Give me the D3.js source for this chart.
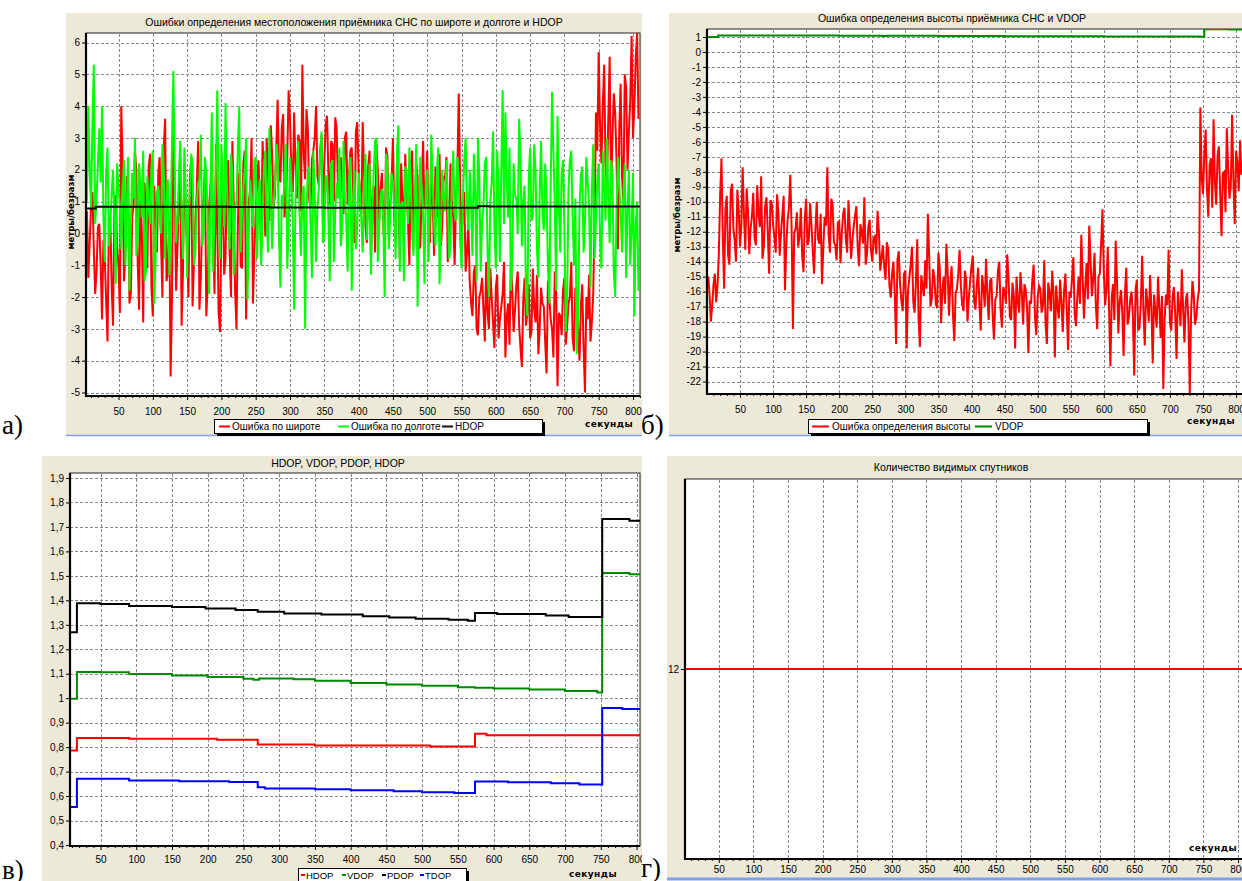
<!DOCTYPE html>
<html><head><meta charset="utf-8">
<script src="https://cdn.jsdelivr.net/npm/d3@7"></script>
<style>
body{margin:0;background:#fff}
svg{display:block}
text{font-family:"Liberation Sans",Arial,sans-serif;fill:#000}
</style>
</head><body>
<svg id="c" width="1242" height="881"></svg>
<script>
// ---------------- DATA ----------------
const xTicks = [50,100,150,200,250,300,350,400,450,500,550,600,650,700,750,800];
const yTicksA = [-5,-4,-3,-2,-1,0,1,2,3,4,5,6];
const yTicksB = [1,0,-1,-2,-3,-4,-5,-6,-7,-8,-9,-10,-11,-12,-13,-14,-15,-16,-17,-18,-19,-20,-21,-22];
const yTicksC = [0.4,0.5,0.6,0.7,0.8,0.9,1,1.1,1.2,1.3,1.4,1.5,1.6,1.7,1.8,1.9];
const yTicksD = [12];

// noisy series: "A" arrays sampled at t = 2,6,10,... s ; "B" arrays at t = 4,8,12,... s
const latErrA = [-0.2,-1.4,0.9,-0.5,-1.2,0.3,-2.7,-0.8,-3.4,0.5,-2.9,1.2,-1.0,
4.0,-1.5,1.8,-2.2,0.5,2.6,-0.9,1.2,-2.8,0.3,2.1,-1.7,1.5,-0.6,2.4,-2.0,3.6,-1.2,-4.5,
3.85,-1.8,1.0,-2.9,2.2,-0.5,1.7,-2.3,0.4,2.9,-1.4,1.1,-2.6,0.8,2.0,-1.9,0.2,-3.1,1.6,-0.8,2.3,-2.0,0.9,-3.0,1.9,-1.1,2.6,-0.4,1.4,-2.2,0.7,
2.3,-0.6,1.8,3.0,0.4,2.5,1.2,4.2,1.6,3.75,0.9,4.5,2.0,3.8,1.1,2.9,5.3,1.7,3.3,0.8,2.6,4.0,1.5,3.1,2.2,3.7,0.9,2.8,3.65,1.4,2.4,0.6,3.2,1.8,2.7,-0.3,3.5,1.2,
3.5,0.2,2.1,-0.8,1.5,2.8,0.4,1.9,-0.5,2.4,0.9,3.0,-0.2,1.6,2.2,0.1,1.3,-1.0,2.6,0.7,1.8,-0.4,2.9,1.0,0.2,2.0,-0.7,1.4,2.5,0.3,1.7,-0.9,2.2,0.5,1.1,4.4,-0.2,1.3,-0.6,
-1.5,-2.6,-1.0,-3.2,-1.8,-2.4,-0.9,-3.0,-2.0,-3.6,-1.3,-2.7,-1.9,-3.9,-2.2,-0.8,-3.1,-1.6,-2.9,-4.2,-1.4,-2.5,-3.3,-1.1,-2.8,-3.8,-1.7,-2.3,-4.4,-2.0,-3.0,-1.2,-4.8,-2.6,-1.8,-3.5,-2.2,-0.9,-3.7,-2.4,-4.0,-1.6,-5.0,-2.7,-3.4,-1.9,
3.8,5.7,2.2,5.3,1.5,5.55,3.0,3.8,-0.5,4.7,1.0,4.6,3.2,6.2,4.0,6.3];
const latErrB = [0.7,-0.3,1.3,-1.9,0.2,-1.0,-0.2,-2.1,0.4,-1.6,0.8,-0.4,-2.5,
2.2,-0.7,1.4,-1.9,0.9,2.0,-2.4,0.1,1.6,-1.1,2.5,-2.6,0.6,1.9,-0.3,2.7,-1.5,0.4,-2.0,
1.2,-0.4,2.5,-1.2,0.6,-2.0,2.4,-0.9,1.3,-2.4,0.5,2.1,-1.6,1.5,-0.2,2.8,-2.5,0.7,-1.3,1.9,-0.6,2.9,-1.8,0.3,-1.0,2.2,-2.7,1.0,3.0,-0.7,1.6,
1.0,2.9,-0.1,2.0,3.4,0.8,2.7,1.9,3.3,0.5,2.4,3.6,1.3,2.2,3.1,0.7,2.5,3.9,1.1,2.3,3.0,1.8,2.6,0.4,3.4,1.9,2.9,1.0,3.3,2.1,1.5,3.0,0.9,2.6,1.4,3.2,2.0,0.6,
1.8,-0.3,2.6,1.1,-0.6,2.0,1.4,0.3,2.7,-0.1,1.5,0.6,2.3,-0.8,1.0,2.5,0.4,1.9,0.0,2.2,-0.5,1.4,0.8,2.6,-0.3,1.2,2.1,0.5,-0.4,1.8,2.4,0.2,1.0,-1.0,2.0,1.6,0.7,-1.2,0.3,
-2.2,-1.2,-3.0,-2.0,-1.4,-3.4,-2.5,-1.1,-2.8,-1.7,-3.3,-2.3,-0.9,-2.6,-3.5,-1.8,-2.4,-1.2,-3.6,-2.1,-2.9,-1.6,-3.1,-2.4,-1.3,-3.0,-2.2,-3.4,-1.5,-2.7,-3.9,-1.9,-2.5,-3.2,-1.4,-2.9,-2.0,-3.3,-1.7,-3.0,-2.3,-3.6,-2.0,-1.3,-2.8,0.4,
2.6,3.4,4.1,2.0,3.6,1.2,4.4,2.3,3.3,1.8,5.0,2.0,4.2,3.0,5.5,3.6];

const lonErrA = [2.5,4.0,0.8,5.3,1.1,3.3,4.0,-0.9,2.7,0.2,2.0,-1.6,1.4,
-0.5,2.3,0.6,-1.8,1.9,3.0,-0.2,1.5,2.6,-1.2,0.9,2.1,-2.2,1.3,0.4,2.8,-0.8,1.7,0.2,
5.1,-0.3,1.8,0.5,2.7,-1.4,1.2,2.2,-0.6,1.6,3.1,0.0,1.9,-1.9,3.8,0.7,4.5,-0.8,1.4,4.1,0.3,2.5,-1.3,1.0,4.0,0.6,2.0,-2.1,1.7,0.2,2.4,
0.9,-1.0,2.1,0.4,3.3,-0.5,1.5,2.4,-1.7,0.8,2.8,0.1,1.6,-2.4,2.2,0.6,1.2,-3.0,1.9,0.3,2.6,-0.9,1.4,3.2,0.0,1.8,-1.5,2.3,0.7,1.1,-0.4,2.9,0.5,1.7,-1.8,2.0,0.2,1.3,
-0.6,2.5,0.8,-1.3,1.9,3.0,0.2,1.4,-2.0,2.2,0.5,1.6,-0.8,3.4,0.9,-1.5,1.8,2.7,0.0,1.2,-2.3,2.4,0.6,1.5,-0.9,3.1,0.3,1.9,-1.6,2.0,0.7,1.0,-0.3,2.6,0.4,1.7,-1.1,2.3,0.8,
2.0,-0.7,1.3,3.0,-1.2,0.8,2.4,-2.0,1.6,0.2,2.6,-0.9,4.5,3.8,0.5,-1.8,2.2,1.1,3.6,-0.4,1.5,-2.6,2.7,0.6,1.9,-1.4,2.9,0.1,1.2,-2.2,4.45,0.9,3.7,-0.6,2.3,-3.1,1.4,2.6,-1.0,-3.8,0.7,2.1,0.3,1.6,-1.7,2.8,
0.4,2.2,-1.1,1.5,3.0,-0.3,1.8,-2.0,2.4,0.6,1.2,-1.4,2.0,0.1,-2.6,1.0];
const lonErrB = [1.0,2.0,3.4,0.3,2.2,1.6,0.5,1.9,-0.4,1.2,0.6,2.2,0.9,
1.3,-1.0,2.4,0.2,1.1,-0.7,2.2,0.5,-1.5,1.8,0.3,2.6,-0.9,1.5,0.0,2.0,1.0,-1.3,2.9,
1.6,0.4,2.9,-0.8,1.3,0.7,2.5,-1.0,0.9,1.7,-0.4,2.4,0.6,1.1,-1.2,2.0,0.9,2.8,0.2,1.5,-0.5,1.9,0.8,2.7,-0.6,1.4,3.0,0.1,1.0,2.3,-0.8,
1.7,0.3,2.6,-0.6,1.3,0.9,2.8,-0.2,1.2,1.9,-1.1,2.4,0.4,1.0,2.9,-0.7,1.5,0.6,2.1,-1.4,1.3,0.8,2.5,-0.3,1.8,0.5,2.2,-0.9,1.6,2.7,0.1,1.1,-1.2,2.4,0.9,-0.5,1.9,0.4,
1.4,-0.2,2.2,0.7,2.9,-0.9,1.2,0.4,2.5,-0.5,1.9,0.8,2.6,-1.2,1.0,2.1,0.3,1.6,-0.7,2.8,0.5,1.3,-1.6,2.0,0.9,1.5,-0.4,2.7,0.2,1.1,2.3,-0.8,1.8,0.6,2.4,-0.2,1.0,3.0,0.1,
0.9,2.5,-1.5,1.8,0.4,2.2,-0.6,1.0,3.2,-1.1,1.4,2.0,0.3,1.6,2.7,-0.8,1.2,0.0,2.4,1.0,-1.9,1.7,0.4,2.8,-0.5,1.3,0.6,2.2,-1.0,1.5,2.6,-1.8,0.8,1.9,0.2,-2.0,2.3,0.5,1.1,-2.5,1.8,-0.6,2.4,0.9,1.3,-0.8,
1.7,-0.2,2.6,0.4,1.1,2.3,-1.2,0.8,1.5,-0.6,2.2,0.7,-1.0,1.9,0.3,-1.8];

const altErrA = [-15.0,-18.0,-15.5,-16.7,-13.5,-7.1,-15.8,-9.6,-14.2,-8.8,-12.6,-9.2,-13.0,
-7.7,-13.2,-10.5,-11.8,-9.4,-12.9,-10.8,-8.3,-13.0,-9.7,-14.8,-10.1,-12.3,-9.5,-13.6,-10.9,-15.9,-11.2,-8.2,
-18.5,-11.8,-13.0,-10.4,-14.7,-9.8,-12.6,-11.5,-14.8,-10.0,-12.8,-15.5,-11.0,-7.7,-13.4,-10.2,-12.9,-11.4,-14.1,-10.8,-12.5,-9.9,-13.8,-11.6,-10.3,-14.3,-12.0,-9.7,-13.5,-11.2,-14.0,
-12.3,-10.6,-14.6,-12.9,-15.2,-13.1,-16.4,-14.0,-19.5,-13.3,-16.6,-14.8,-19.8,-15.1,-13.0,-17.4,-12.5,-19.7,-15.6,-13.9,-10.8,-17.0,-14.5,-16.8,-13.4,-18.1,-15.0,-12.8,-17.6,-14.3,-19.3,-15.8,-13.2,-16.9,-14.6,-18.0,-15.3,-13.6,
-17.2,-14.4,-18.6,-15.7,-13.8,-17.9,-15.1,-19.2,-16.3,-14.0,-18.4,-16.0,-13.5,-17.7,-15.4,-19.8,-16.6,-14.7,-18.2,-15.9,-20.1,-16.8,-14.2,-18.9,-15.6,-17.4,-13.9,-19.5,-16.1,-14.6,-20.4,-17.0,-15.2,-18.7,-14.8,-19.9,-16.4,-13.7,-18.3,
-15.0,-12.2,-17.8,-14.1,-11.6,-16.3,-13.4,-18.5,-14.8,-10.5,-16.9,-13.0,-21.0,-15.5,-12.6,-18.8,-15.9,-20.3,-14.4,-17.7,-16.0,-21.6,-15.2,-18.4,-13.6,-19.6,-16.7,-14.9,-20.8,-17.3,-15.0,-19.1,-22.5,-16.2,-13.2,-18.6,-15.7,-20.5,-17.0,-14.5,-19.4,-16.1,-22.8,-15.3,-18.2,-16.5,
-3.7,-9.5,-5.2,-11.0,-7.1,-4.5,-10.2,-6.3,-12.3,-8.0,-5.1,-9.8,-4.2,-11.5,-7.4,-5.9];
const altErrB = [-16.2,-16.9,-14.8,-15.6,-9.6,-12.3,-10.4,-13.6,-9.3,-11.8,-14.0,-10.5,-11.6,
-10.9,-9.1,-13.5,-11.0,-12.4,-8.9,-11.7,-13.8,-10.3,-12.0,-9.9,-11.5,-13.4,-10.7,-12.1,-9.6,-12.9,-10.4,-11.7,
-12.1,-10.7,-12.3,-13.6,-11.1,-12.9,-10.1,-13.3,-11.9,-12.5,-10.8,-13.0,-11.6,-12.2,-9.8,-12.7,-13.9,-11.3,-12.0,-10.4,-13.4,-11.8,-12.6,-10.9,-13.1,-11.5,-12.8,-14.2,-11.7,-13.2,-12.4,
-13.5,-12.0,-13.8,-14.3,-12.7,-15.6,-14.8,-16.2,-13.9,-15.5,-17.3,-14.6,-16.0,-14.2,-16.7,-15.3,-17.8,-14.9,-16.3,-15.8,-13.6,-16.5,-15.1,-17.1,-14.4,-15.9,-16.8,-14.7,-15.4,-17.5,-16.1,-14.8,-15.7,-17.3,-15.2,-16.4,-14.3,-16.6,
-15.6,-16.9,-14.9,-17.0,-16.2,-15.3,-17.6,-16.5,-14.6,-17.2,-15.7,-16.8,-15.1,-17.9,-16.3,-15.0,-17.4,-16.0,-15.5,-17.1,-16.6,-15.2,-17.7,-16.4,-15.8,-16.9,-18.2,-15.4,-17.3,-16.1,-15.6,-17.8,-16.7,-15.9,-17.2,-16.0,-15.1,-17.5,-16.3,
-16.8,-14.9,-15.7,-16.5,-13.9,-15.2,-16.9,-15.0,-12.8,-14.6,-15.8,-17.2,-16.4,-17.9,-15.3,-16.7,-17.4,-16.1,-18.2,-16.5,-17.6,-15.9,-18.6,-16.8,-17.3,-15.8,-18.0,-17.1,-16.2,-18.4,-17.0,-16.3,-17.8,-16.9,-18.1,-16.4,-17.5,-16.0,-18.3,-17.2,-16.6,-18.0,-17.4,-16.2,-17.7,-15.9,
-8.4,-6.8,-9.1,-7.5,-10.4,-8.7,-6.9,-9.5,-8.1,-10.7,-7.7,-9.0,-8.6,-6.6,-9.3,-8.2];

// DOP step series: [time s, value]
const hdop = [[2,0.786],[17,0.837],[90,0.834],[213,0.83],[270,0.811],[350,0.807],[511,0.803],[574,0.855],[590,0.849],[810,0.849]];
const vdop = [[2,0.998],[17,1.107],[50,1.106],[90,1.099],[150,1.093],[200,1.087],[250,1.08],[264,1.075],[272,1.081],[320,1.077],[350,1.071],[400,1.062],[450,1.056],[500,1.051],[550,1.045],[574,1.043],[600,1.04],[650,1.036],[700,1.029],[745,1.023],[752,1.512],[790,1.507],[810,1.507]];
const pdop = [[2,1.27],[17,1.388],[50,1.385],[90,1.377],[150,1.373],[197,1.367],[239,1.36],[270,1.353],[307,1.346],[359,1.342],[417,1.335],[454,1.33],[491,1.325],[537,1.321],[564,1.317],[574,1.348],[605,1.344],[673,1.338],[705,1.332],[752,1.732],[790,1.725],[810,1.725]];
const tdop = [[2,0.555],[17,0.671],[90,0.664],[160,0.661],[230,0.657],[270,0.636],[280,0.631],[350,0.628],[400,0.624],[460,0.62],[500,0.616],[545,0.613],[574,0.66],[620,0.656],[680,0.652],[720,0.647],[752,0.96],[780,0.956],[810,0.956]];
const satCount = [[0,12],[810,12]];

const titles = {
  a: "Ошибки определения местоположения приёмника СНС по широте и долготе и HDOP",
  b: "Ошибка определения высоты приёмника СНС и VDOP",
  c: "HDOP, VDOP, PDOP, HDOP",
  d: "Количество видимых спутников"
};

// ---------------- DRAWING ----------------
const svg = d3.select('#c');
const defs = svg.append('defs');
const BEIGE = '#ece9d8';
// combine the two interleaved sample sets into one time-ordered series
function noisy(a, b) {
  const pts = a.map((v, i) => [2 + i * 4, v]).concat(b.map((v, i) => [4 + i * 4, v]));
  return pts.sort((p, q) => p[0] - q[0]);
}
const minorTicks = d3.range(10, 811, 10).filter(v => v % 50 !== 0);

function drawPanel(p) {
  const pc = 'pc' + p.id, cc = 'cc' + p.id;
  defs.append('clipPath').attr('id', pc).append('rect')
    .attr('x', p.bx0).attr('y', p.by0 - 8).attr('width', p.bx1 - p.bx0).attr('height', p.by1 - p.by0 + 40);
  defs.append('clipPath').attr('id', cc).append('rect')
    .attr('x', p.px0).attr('y', p.py0).attr('width', p.px1 - p.px0).attr('height', p.py1 - p.py0);
  const g = svg.append('g').attr('clip-path', `url(#${pc})`);
  g.append('rect').attr('x', p.bx0).attr('y', p.by0).attr('width', p.bx1 - p.bx0).attr('height', p.by1 - p.by0).attr('fill', BEIGE);
  if (p.blueY) g.append('line').attr('x1', p.bx0).attr('x2', p.bx1).attr('y1', p.blueY).attr('y2', p.blueY)
    .attr('stroke', '#7f9fe6').attr('stroke-width', p.blueW || 1.5);

  g.append('text').attr('x', p.tx).attr('y', p.ty).attr('text-anchor', 'middle').style('font-size', '10.5px').text(p.title);

  const x = d3.scaleLinear().domain(p.xd).range(p.xr);
  const y = d3.scaleLinear().domain(p.yd).range(p.yr);

  g.append('rect').attr('x', p.px0).attr('y', p.py0).attr('width', p.px1 - p.px0).attr('height', p.py1 - p.py0)
    .attr('fill', '#fff').attr('stroke', '#222').attr('stroke-width', 1);

  // grid
  const grid = g.append('g').attr('stroke', '#8a8a8a').attr('stroke-width', 1).attr('stroke-dasharray', '3,2');
  xTicks.forEach(t => {
    const xx = Math.round(x(t)) + 0.5;
    if (xx > p.px0 + 1 && xx < p.px1) grid.append('line').attr('x1', xx).attr('x2', xx).attr('y1', p.py0 + 1).attr('y2', p.py1);
  });
  if (p.hGrid) p.yTicks.forEach(v => {
    const yy = Math.round(y(v)) + 0.5;
    if (yy > p.py0 && yy < p.py1 - 1) grid.append('line').attr('x1', p.px0).attr('x2', p.px1).attr('y1', yy).attr('y2', yy);
  });

  // series
  const sg = g.append('g').attr('clip-path', `url(#${cc})`);
  p.series.forEach(s => {
    const line = d3.line().x(d => x(d[0])).y(d => y(d[1]));
    if (s.step) line.curve(d3.curveStepAfter);
    sg.append('path').datum(s.data).attr('d', line).attr('fill', 'none')
      .attr('stroke', s.color).attr('stroke-width', s.w || 2).attr('stroke-linejoin', 'miter');
  });

  // axes
  const xa = g.append('g').attr('transform', `translate(0,${p.py1})`)
    .call(d3.axisBottom(x).tickValues(xTicks).tickSize(4).tickSizeOuter(0).tickPadding(p.xPad).tickFormat(d => String(d)));
  xa.select('.domain').remove();
  xa.selectAll('text').style('font-size', '10px').attr('fill', '#000');
  const xm = g.append('g').attr('transform', `translate(0,${p.py1})`)
    .call(d3.axisBottom(x).tickValues(minorTicks).tickSize(2).tickSizeOuter(0).tickFormat(''));
  xm.select('.domain').remove();

  const ya = g.append('g').attr('transform', `translate(${p.px0},0)`)
    .call(d3.axisLeft(y).tickValues(p.yTicks).tickSize(4).tickSizeOuter(0).tickPadding(2).tickFormat(p.yFmt));
  ya.select('.domain').remove();
  ya.selectAll('text').style('font-size', '10px').attr('fill', '#000');

  g.append('line').attr('x1', p.px0).attr('x2', p.px0).attr('y1', p.py0).attr('y2', p.py1 + 1).attr('stroke', '#000').attr('stroke-width', 2.2);
  g.append('line').attr('x1', p.px0).attr('x2', p.px1).attr('y1', p.py1).attr('y2', p.py1).attr('stroke', '#000').attr('stroke-width', 2.2);

  if (p.ylab) g.append('text').attr('transform', `translate(${p.ylab[0]},${p.ylab[1]}) rotate(-90)`)
    .attr('text-anchor', 'middle').style('font-family', '"DejaVu Sans",Verdana,sans-serif')
    .style('font-size', '8.5px').style('font-weight', 'bold').text('метры/безразм');

  g.append('text').attr('x', p.sec[0]).attr('y', p.sec[1]).attr('text-anchor', 'middle')
    .style('font-family', '"DejaVu Sans",Verdana,sans-serif').style('font-size', '9px')
    .style('font-weight', 'bold').style('letter-spacing', '0.4px').text('секунды');

  if (p.legend) {
    const L = p.legend;
    g.append('rect').attr('x', L.x + 3).attr('y', L.y + 3).attr('width', L.w).attr('height', L.h).attr('fill', '#000');
    g.append('rect').attr('x', L.x + 0.5).attr('y', L.y + 0.5).attr('width', L.w).attr('height', L.h)
      .attr('fill', '#fff').attr('stroke', '#000').attr('stroke-width', 1);
    const cy = L.y + L.h / 2 + 0.5;
    L.items.forEach(it => {
      g.append('line').attr('x1', it.lx).attr('x2', it.lx + it.lw).attr('y1', cy).attr('y2', cy)
        .attr('stroke', it.color).attr('stroke-width', 2);
      g.append('text').attr('x', it.tx).attr('y', cy + 3.5).style('font-size', L.fs || '10px').text(it.label);
    });
  }
}

const fmtInt = d => String(d);
const fmtComma = d => String(d).replace('.', ',');

// а)
drawPanel({
  id: 'a', bx0: 66, bx1: 642, by0: 13, by1: 436, blueY: 435.5,
  title: titles.a, tx: 354, ty: 26,
  px0: 86, px1: 640, py0: 33, py1: 396,
  xd: [50, 800], xr: [118.5, 633], yd: [-5, 6], yr: [392.5, 42.5],
  yTicks: yTicksA, yFmt: fmtInt, hGrid: true, xPad: 8,
  series: [
    { data: noisy(latErrA, latErrB), color: '#ff0000' },
    { data: noisy(lonErrA, lonErrB), color: '#00ff00' },
    { data: hdop, color: '#000000', step: true }
  ],
  ylab: [74, 212], sec: [609, 427],
  legend: { x: 214, y: 419, w: 328, h: 14, items: [
    { color: '#ff0000', lx: 219, lw: 11, tx: 232, label: 'Ошибка по широте' },
    { color: '#00ff00', lx: 338, lw: 11, tx: 351, label: 'Ошибка по долготе' },
    { color: '#2a0808', lx: 442, lw: 11, tx: 455, label: 'HDOP' }
  ] }
});

// б)
drawPanel({
  id: 'b', bx0: 669, bx1: 1242, by0: 13, by1: 436, blueY: 435.5,
  title: titles.b, tx: 952, ty: 22,
  px0: 707, px1: 1260, py0: 29, py1: 394,
  xd: [50, 750], xr: [740, 1203], yd: [-22, 1], yr: [381.5, 37],
  yTicks: yTicksB, yFmt: fmtInt, hGrid: true, xPad: 8,
  series: [
    { data: noisy(altErrA, altErrB), color: '#ff0000' },
    { data: vdop, color: '#008a00', step: true }
  ],
  ylab: [680, 215], sec: [1211, 424],
  legend: { x: 808, y: 419, w: 339, h: 14, items: [
    { color: '#ff0000', lx: 812, lw: 17, tx: 832, label: 'Ошибка определения высоты' },
    { color: '#008a00', lx: 975, lw: 17, tx: 995, label: 'VDOP' }
  ] }
});

// в)
drawPanel({
  id: 'c', bx0: 42, bx1: 642, by0: 456, by1: 881,
  title: titles.c, tx: 338, ty: 467,
  px0: 70, px1: 640, py0: 473, py1: 846,
  xd: [50, 750], xr: [100.5, 600.8], yd: [0.4, 1.9], yr: [845, 478],
  yTicks: yTicksC, yFmt: fmtComma, hGrid: true, xPad: 6,
  series: [
    { data: hdop, color: '#ff0000', step: true },
    { data: vdop, color: '#008a00', step: true },
    { data: pdop, color: '#000000', step: true },
    { data: tdop, color: '#0000ff', step: true }
  ],
  sec: [593, 877],
  legend: { x: 298, y: 868, w: 168, h: 13, fs: '9.5px', items: [
    { color: '#ff0000', lx: 301, lw: 4, tx: 306, label: 'HDOP' },
    { color: '#008a00', lx: 342, lw: 4, tx: 347, label: 'VDOP' },
    { color: '#000000', lx: 382, lw: 4, tx: 387, label: 'PDOP' },
    { color: '#0000ff', lx: 420, lw: 4, tx: 425, label: 'TDOP' }
  ] }
});

// г)
drawPanel({
  id: 'd', bx0: 667, bx1: 1242, by0: 456, by1: 880, blueY: 879, blueW: 3,
  title: titles.d, tx: 951, ty: 471,
  px0: 685, px1: 1260, py0: 479, py1: 859,
  xd: [50, 800], xr: [718.8, 1238], yd: [11, 13], yr: [859, 479],
  yTicks: yTicksD, yFmt: fmtInt, hGrid: false, xPad: 3,
  series: [ { data: satCount, color: '#ff0000' } ],
  sec: [1213, 851]
});

// panel letters
const letters = [['а)', 2, 434], ['б)', 641, 434], ['в)', 2, 879], ['г)', 641, 877]];
letters.forEach(l => svg.append('text').attr('x', l[1]).attr('y', l[2])
  .style('font-family', '"Liberation Serif","Times New Roman",serif').style('font-size', '27px').text(l[0]));
</script>
</body></html>
